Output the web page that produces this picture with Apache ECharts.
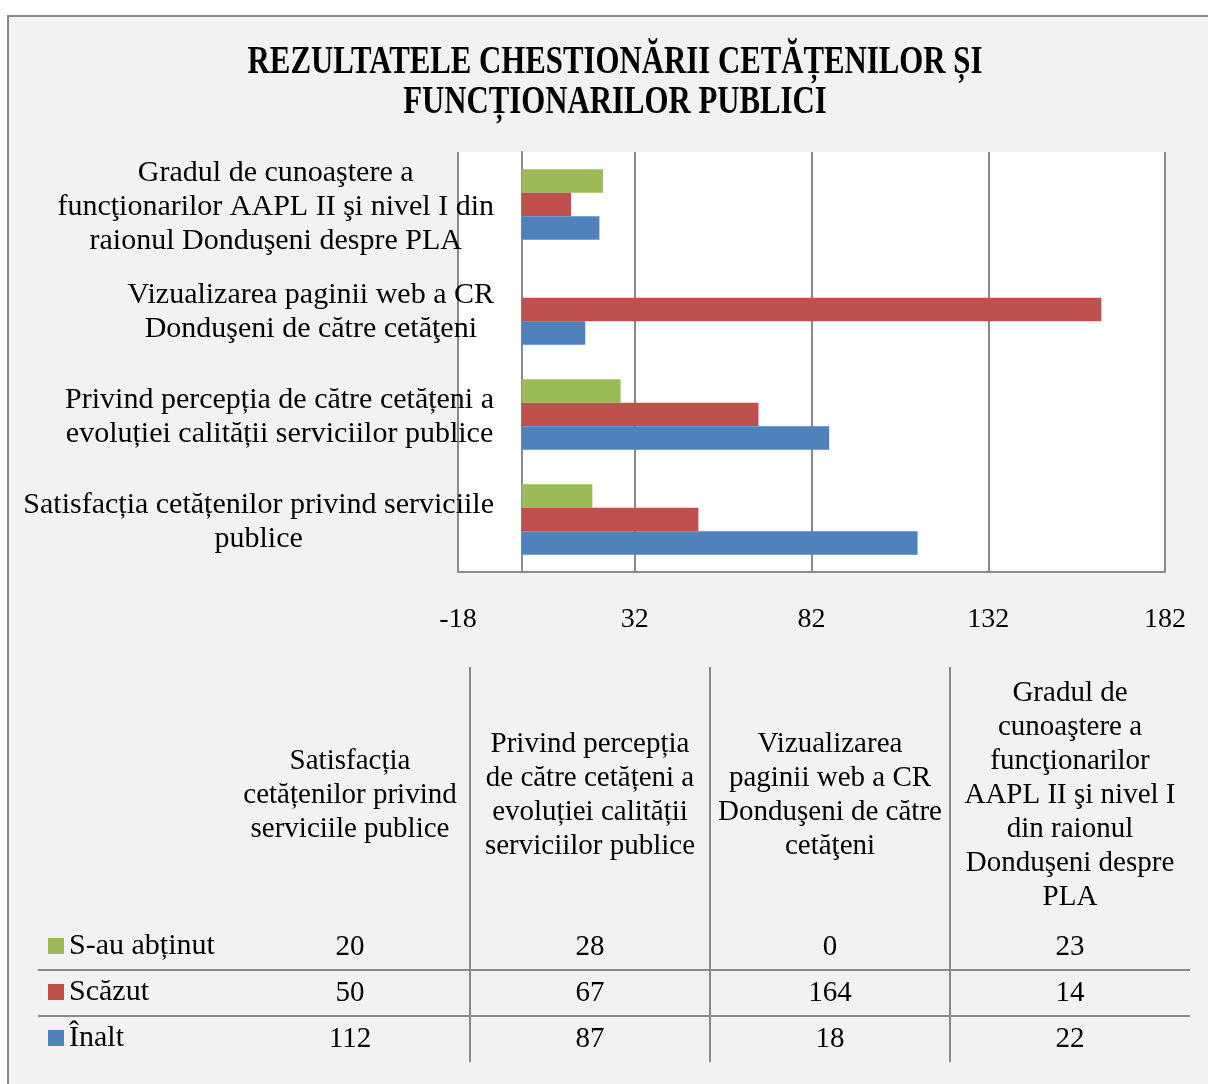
<!DOCTYPE html>
<html>
<head>
<meta charset="utf-8">
<script src="https://cdn.jsdelivr.net/npm/echarts@6/dist/echarts.min.js"></script>
<style>
  html, body { margin: 0; padding: 0; background: #fff; }
  #chart { width: 1208px; height: 1084px; }
</style>
</head>
<body>
<div id="chart"></div>
<script>
// categories, bottom to top on the bar chart, left to right in the table
var categories = [
  "Satisfacția cetățenilor privind serviciile\npublice",
  "Privind percepția de către cetățeni a\nevoluției calității serviciilor publice",
  "Vizualizarea paginii web a CR\nDonduşeni de către cetăţeni",
  "Gradul de cunoaştere a\nfuncţionarilor AAPL II şi nivel I din\nraionul Donduşeni despre PLA"
];
var tableHeaders = [
  "Satisfacția\ncetățenilor privind\nserviciile publice",
  "Privind percepția\nde către cetățeni a\nevoluției calității\nserviciilor publice",
  "Vizualizarea\npaginii web a CR\nDonduşeni de către\ncetăţeni",
  "Gradul de\ncunoaştere a\nfuncţionarilor\nAAPL II şi nivel I\ndin raionul\nDonduşeni despre\nPLA"
];
var seriesNames = ["S-au abținut", "Scăzut", "Înalt"];
var abtinut = [20, 28, 0, 23];
var scazut = [50, 67, 164, 14];
var inalt = [112, 87, 18, 22];
var xTicks = [-18, 32, 82, 132, 182];
var titleText = "REZULTATELE CHESTIONĂRII CETĂȚENILOR ȘI\nFUNCȚIONARILOR PUBLICI";

var FONT = "'Liberation Serif', 'Times New Roman', serif";
var GRID_COLOR = "#8a8a8a";
var colors = { "S-au abținut": "#9BBB59", "Scăzut": "#C0504D", "Înalt": "#4F81BD" };

var chart = echarts.init(document.getElementById("chart"));

var graphics = [
  {
    type: "rect", z: -10,
    shape: { x: 8, y: 16, width: 1400, height: 1200 },
    style: { fill: "#f2f2f2", stroke: "#878787", lineWidth: 2 }
  },
  // condensed bold title
  {
    type: "text", x: 615, y: 83, scaleX: 0.79,
    style: {
      text: titleText, align: "center", verticalAlign: "middle",
      fontFamily: FONT, fontSize: 39, fontWeight: "bold", lineHeight: 40, fill: "#000"
    }
  }
];

// data table below the plot
var colCenters = [350, 590, 830, 1070];
var rowCenters = [947, 993, 1039];
var rowData = [abtinut, scazut, inalt];
[470, 710, 950].forEach(function (x) {
  graphics.push({
    type: "line",
    shape: { x1: x, y1: 667, x2: x, y2: 1062 },
    style: { stroke: GRID_COLOR, lineWidth: 2 }
  });
});
[970, 1016].forEach(function (y) {
  graphics.push({
    type: "line",
    shape: { x1: 38, y1: y, x2: 1190, y2: y },
    style: { stroke: GRID_COLOR, lineWidth: 2 }
  });
});
tableHeaders.forEach(function (h, i) {
  graphics.push({
    type: "text", x: colCenters[i], y: 795,
    style: {
      text: h, align: "center", verticalAlign: "middle",
      fontFamily: FONT, fontSize: 29, lineHeight: 34, fill: "#000"
    }
  });
});
rowData.forEach(function (vals, r) {
  vals.forEach(function (v, c) {
    graphics.push({
      type: "text", x: colCenters[c], y: rowCenters[r],
      style: {
        text: String(v), align: "center", verticalAlign: "middle",
        fontFamily: FONT, fontSize: 29, fill: "#000"
      }
    });
  });
});

function barSeries(name, data) {
  return {
    name: name,
    type: "bar",
    data: data,
    barGap: "0%",
    barCategoryGap: "33%",
    itemStyle: { color: colors[name] }
  };
}

chart.setOption({
  backgroundColor: "#fff",
  animation: false,
  legend: {
    data: seriesNames,
    orient: "vertical",
    left: 48,
    top: 931,
    padding: 0,
    itemWidth: 16,
    itemHeight: 16,
    itemGap: 16,
    icon: "rect",
    textStyle: { fontFamily: FONT, fontSize: 30, lineHeight: 30, color: "#000" }
  },
  grid: {
    left: 458, top: 152, width: 707, height: 420,
    show: true, backgroundColor: "#fff", borderWidth: 0
  },
  xAxis: {
    type: "value",
    min: xTicks[0],
    max: xTicks[xTicks.length - 1],
    interval: 50,
    axisLine: { show: true, lineStyle: { color: GRID_COLOR, width: 2 } },
    axisTick: { show: false },
    splitLine: { show: true, lineStyle: { color: GRID_COLOR, width: 2 } },
    axisLabel: {
      showMinLabel: true, showMaxLabel: true,
      margin: 34, color: "#000", fontFamily: FONT, fontSize: 28
    }
  },
  yAxis: {
    type: "category",
    data: categories,
    axisLine: { show: true, onZero: true, lineStyle: { color: GRID_COLOR, width: 2 } },
    axisTick: { show: false },
    axisLabel: {
      align: "right",
      margin: -36,
      padding: [6, 0, 0, 0],
      formatter: function (v) {
        return v.split("\n").map(function (l) { return "{c|" + l + "}"; }).join("\n");
      },
      rich: {
        c: { align: "center", fontFamily: FONT, fontSize: 30, lineHeight: 34, color: "#000" }
      }
    }
  },
  series: [
    barSeries("S-au abținut", abtinut),
    barSeries("Scăzut", scazut),
    barSeries("Înalt", inalt)
  ],
  graphic: graphics
});
</script>
</body>
</html>
